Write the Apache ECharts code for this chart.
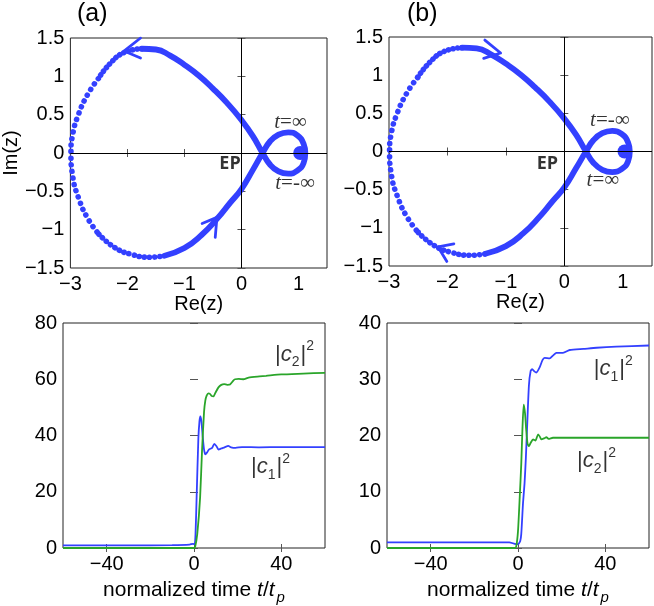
<!DOCTYPE html>
<html>
<head>
<meta charset="utf-8">
<script src="https://cdn.jsdelivr.net/npm/echarts@6/dist/echarts.min.js"></script>
<style>
html,body{margin:0;padding:0;background:#fff;}
#chart{width:654px;height:606px;}
</style>
</head>
<body>
<div id="chart"></div>
<script>
// tick values
var reTicks = [-3, -2, -1, 0, 1];
var imTicks = [-1.5, -1, -0.5, 0, 0.5, 1, 1.5];
var timeTicks = [-40, 0, 40];
var popTicksA = [0, 20, 40, 60, 80];
var popTicksB = [0, 10, 20, 30, 40];

// trajectory of z in the complex plane, same shape in (a) and (b)
var arcTop = [[-1.75,1.36],[-2.06,1.31],[-2.3,1.17],[-2.51,0.97]];
var arcLeft = [[-2.51,0.97],[-2.7,0.76],[-2.86,0.5],[-2.96,0.24],[-2.99,0],[-2.96,-0.3],[-2.85,-0.6],[-2.69,-0.86],[-2.5,-1.06]];
var arcBottom = [[-2.5,-1.06],[-2.23,-1.23],[-1.94,-1.32],[-1.6,-1.36],[-1.35,-1.34]];
var body = [[-1.35,-1.34],[-1.0,-1.24],[-0.7,-1.07],[-0.43,-0.86],[-0.2,-0.65],[0,-0.47],[0.2,-0.22],[0.37,0],
  [0.5,0.15],[0.65,0.24],[0.82,0.27],[0.98,0.23],[1.09,0.12],[1.12,0],[1.09,-0.13],[0.98,-0.23],[0.82,-0.27],
  [0.65,-0.24],[0.5,-0.15],[0.37,0],[0.2,0.22],[0,0.43],[-0.25,0.65],[-0.5,0.84],[-0.75,1.01],[-1.0,1.15],
  [-1.25,1.27],[-1.5,1.35],[-1.75,1.36]];
var endBlob = [[1.03, 0]];

// arrowheads: barb, tip, barb
var arrowsA = [
  [[-1.77,1.50],[-2.06,1.33],[-1.77,1.24]],
  [[-0.69,-0.92],[-0.43,-0.84],[-0.46,-1.10]]
];
var arrowsB = [
  [[-1.36,1.46],[-1.09,1.29],[-1.38,1.22]],
  [[-1.89,-1.21],[-2.16,-1.25],[-2.01,-1.44]]
];

// populations vs normalized time, panel (a)
var c1A = [[-60,0.9],[-30,0.9],[-10,1.0],[-2,1.2],[-0.5,1.5],[0.3,1.3],[0.7,5],[1.2,18],[2,39],[2.5,45],[2.9,46.8],
  [3.4,45],[4,39.5],[4.6,35],[5.2,33.3],[6,34],[6.8,35],[8.3,35.6],[9.3,37],[10.3,36.2],[11.2,35],[12.5,35.4],
  [14,35.8],[15.7,36.3],[17,35.8],[19,35.6],[22,35.9],[30,35.8],[40,35.9],[60,35.9]];
var c2A = [[-60,0],[-10,0],[0,0],[0.5,0.3],[1.5,5],[2.8,18],[3.7,35],[4.6,48.4],[5.2,52.5],[5.8,54.2],[6.6,55],
  [7.3,54.8],[8.2,54],[8.9,53.9],[9.8,55.2],[11.2,57.1],[12.5,58],[13.8,58.3],[15.2,58],[16.5,58.1],[18,59.5],
  [18.8,60],[20.5,60.1],[22.6,60],[25,60.6],[30,61],[33,61.2],[40,61.7],[50,62],[60,62.3]];
// panel (b)
var c1B = [[-60,1.0],[-30,1.0],[-10,1.0],[-4,1.0],[-1.5,0.75],[0,0.7],[1,1.2],[1.5,2.5],[2.3,8],[3,11.5],[3.6,16],
  [4.1,20.8],[5,28.9],[5.8,31.5],[6.5,31.8],[7.5,31.4],[8.4,31.2],[9.9,32.1],[11.2,33.4],[12.2,33.8],[14.5,33.7],
  [16,34.2],[17.6,34.7],[20.6,34.7],[23.7,35.2],[30,35.4],[36,35.6],[45,35.8],[60,36]];
var c2B = [[-60,0],[-10,0],[-1.5,0],[-0.8,0.3],[0,3],[0.8,9.1],[1.5,15],[2,20.8],[2.6,25.5],[3.2,24],[3.8,20.8],
  [4.4,18.5],[5,18.1],[5.8,18.7],[6.9,19.3],[8,19.1],[9.2,20.2],[10,19.8],[10.7,19.3],[12,19.5],[13,19.7],
  [14,19.4],[16,19.6],[20,19.6],[30,19.6],[60,19.6]];

// text annotations
var notesA = [[0.86,0.40,'{i|t}=∞'],[0.94,-0.40,'{i|t}=-∞'],[-0.2,-0.14,'{b|EP}']];
var notesB = [[0.78,0.40,'{i|t}=-∞'],[0.66,-0.38,'{i|t}=∞'],[-0.29,-0.16,'{b|EP}']];
var popNotesA = [[46,68.8,'|{i|c}{s|2}|{p|2}'],[35,28.7,'|{i|c}{s|1}|{p|2}']];
var popNotesB = [[43.6,31.8,'|{i|c}{s|1}|{p|2}'],[36,15.5,'|{i|c}{s|2}|{p|2}']];

var SANS = "'Liberation Sans', Arial, Helvetica, sans-serif";
var SERIF = "'Liberation Serif', 'DejaVu Serif', serif";
var BLUE = '#3340ff';
var GREEN = '#2aa52a';

function minus(v){ return String(v).replace('-', '\u2212'); }

var grids = [
  {left:65, top:38, width:262, height:230},
  {left:389, top:37, width:263, height:229},
  {left:63, top:323, width:262, height:229},
  {left:387, top:323, width:262, height:229}
];
grids.forEach(function(g){ g.show = true; g.borderColor = '#222'; g.borderWidth = 1; });

var xAxes = [], yAxes = [];
function addAxes(gi, xr, yr, xt, yt, xname, yname){
  var tick = {inside:true, length:4, lineStyle:{color:'#555'}};
  var lab = {color:'#000', fontSize:20, fontFamily:SANS, margin:6, formatter:minus};
  var isTime = xname.indexOf('normalized') === 0;
  xAxes.push({gridIndex:gi, type:'value', min:xr[0], max:xr[1], position:'bottom',
    axisLine:{show:false}, splitLine:{show:false},
    axisTick:Object.assign({customValues:xt}, tick),
    axisLabel:Object.assign({customValues:xt}, lab),
    name:xname, nameLocation:'middle', nameGap:isTime ? 28 : 24,
    nameTextStyle:{color:'#000', fontSize:isTime ? 21 : 20, fontFamily:SANS,
      rich:{i:{fontStyle:'italic', fontSize:21, fontFamily:SANS},
            s:{fontStyle:'italic', fontSize:15, fontFamily:SANS, padding:[14,0,0,2]}}}});
  xAxes.push({gridIndex:gi, type:'value', min:xr[0], max:xr[1], position:'top',
    axisLine:{show:false}, splitLine:{show:false},
    axisTick:Object.assign({customValues:xt}, tick), axisLabel:{show:false}});
  yAxes.push({gridIndex:gi, type:'value', min:yr[0], max:yr[1], position:'left',
    axisLine:{show:false}, splitLine:{show:false},
    axisTick:Object.assign({customValues:yt}, tick),
    axisLabel:Object.assign({customValues:yt}, lab),
    name:yname, nameLocation:'middle', nameGap:44, nameRotate:90,
    nameTextStyle:{color:'#000', fontSize:20, fontFamily:SANS}});
  yAxes.push({gridIndex:gi, type:'value', min:yr[0], max:yr[1], position:'right',
    axisLine:{show:false}, splitLine:{show:false},
    axisTick:Object.assign({customValues:yt}, tick), axisLabel:{show:false}});
}
addAxes(0, [-3,1.5], [-1.5,1.5], reTicks, imTicks, 'Re(z)', 'Im(z)');
addAxes(1, [-3,1.5], [-1.5,1.5], reTicks, imTicks, 'Re(z)', '');
addAxes(2, [-60,60], [0,80], timeTicks, popTicksA, 'normalized time {i|t}/{i|t}{s|p}', '');
addAxes(3, [-60,60], [0,40], timeTicks, popTicksB, 'normalized time {i|t}/{i|t}{s|p}', '');

var series = [];
function dotted(gi, data, gap){
  return {type:'line', xAxisIndex:2*gi, yAxisIndex:2*gi, data:data, smooth:true, showSymbol:false, silent:true,
    lineStyle:{color:BLUE, width:5.6, type:[0.01, gap], cap:'round'}};
}
function zPanel(gi, arrows, notes){
  var cross = dotted(gi, arcLeft, 6.6);
  cross.markLine = {silent:true, symbol:'none', label:{show:false}, animation:false,
    lineStyle:{color:'#000', width:1, type:'solid'}, data:[{xAxis:0},{yAxis:0}]};
  series.push(cross);
  series.push(dotted(gi, arcTop, 4.6));
  series.push(dotted(gi, arcBottom, 5.2));
  series.push({type:'line', xAxisIndex:2*gi, yAxisIndex:2*gi, data:body, smooth:true, showSymbol:false,
    lineStyle:{color:BLUE, width:5.8, cap:'round', join:'round'}});
  series.push({type:'scatter', xAxisIndex:2*gi, yAxisIndex:2*gi, data:endBlob, symbolSize:14,
    itemStyle:{color:BLUE, opacity:1}});
  arrows.forEach(function(a){
    series.push({type:'line', xAxisIndex:2*gi, yAxisIndex:2*gi, data:a, showSymbol:false,
      lineStyle:{color:BLUE, width:2.8, cap:'round', join:'round'}});
  });
  series.push({type:'scatter', xAxisIndex:2*gi, yAxisIndex:2*gi, data:notes, symbolSize:0,
    label:{show:true, position:'inside', formatter:function(p){ return p.data[2]; },
      color:'#000', fontSize:21, fontFamily:SERIF,
      rich:{i:{fontStyle:'italic', fontSize:21, fontFamily:SERIF},
            b:{fontWeight:'bold', fontSize:18, fontFamily:"'Open Sans', sans-serif"}}}});
}
function popPanel(gi, c1, c2, notes){
  series.push({type:'line', xAxisIndex:2*gi, yAxisIndex:2*gi, data:c1, smooth:0.2, showSymbol:false,
    lineStyle:{color:BLUE, width:1.8}});
  series.push({type:'line', xAxisIndex:2*gi, yAxisIndex:2*gi, data:c2, smooth:0.2, showSymbol:false,
    lineStyle:{color:GREEN, width:1.8}});
  series.push({type:'scatter', xAxisIndex:2*gi, yAxisIndex:2*gi, data:notes, symbolSize:0,
    label:{show:true, position:'inside', formatter:function(p){ return p.data[2]; },
      color:'#000', fontSize:22, fontFamily:SANS, lineHeight:30,
      rich:{i:{fontStyle:'italic', fontSize:22, fontFamily:SANS, lineHeight:30},
            s:{fontSize:14, fontFamily:SANS, verticalAlign:'bottom', lineHeight:30, padding:[0,1,0,0]},
            p:{fontSize:14, fontFamily:SANS, verticalAlign:'top', lineHeight:30}}}});
}
zPanel(0, arrowsA, notesA);
zPanel(1, arrowsB, notesB);
popPanel(2, c1A, c2A, popNotesA);
popPanel(3, c1B, c2B, popNotesB);

var chart = echarts.init(document.getElementById('chart'), null, {renderer:'canvas'});
chart.setOption({
  animation:false,
  backgroundColor:'#fff',
  grid:grids,
  xAxis:xAxes,
  yAxis:yAxes,
  series:series,
  graphic:[
    {type:'text', left:77, top:2, style:{text:'(a)', font:'25px ' + SANS, fill:'#000'}},
    {type:'text', left:407, top:2, style:{text:'(b)', font:'25px ' + SANS, fill:'#000'}}
  ]
});
</script>
</body>
</html>
